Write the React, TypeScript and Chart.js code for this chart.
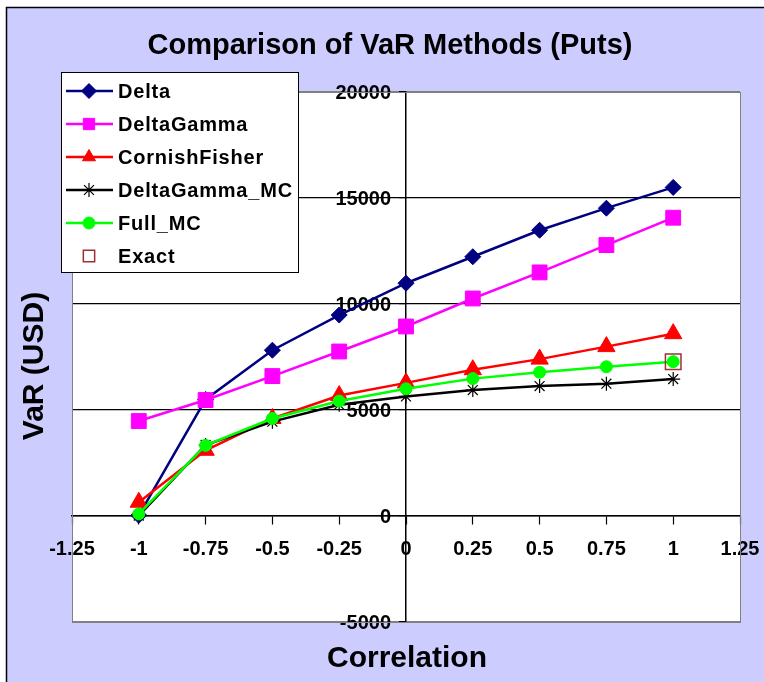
import React, { useEffect, useRef } from 'react';
import { Chart, registerables } from 'chart.js';
import { drawPoint } from 'chart.js/helpers';

Chart.register(...registerables);

const chartTitle = 'Comparison of VaR Methods (Puts)';
const xAxisTitle = 'Correlation';
const yAxisTitle = 'VaR (USD)';

const correlations = [-1, -0.75, -0.5, -0.25, 0, 0.25, 0.5, 0.75, 1];
const deltaVaR = [30, 5500, 7820, 9480, 10980, 12230, 13480, 14520, 15500];
const deltaGammaVaR = [4480, 5470, 6600, 7760, 8940, 10260, 11490, 12780, 14070];
const cornishFisherVaR = [650, 3100, 4600, 5680, 6280, 6900, 7400, 7990, 8600];
const deltaGammaMcVaR = [20, 3350, 4450, 5250, 5640, 5940, 6130, 6240, 6460];
const fullMcVaR = [100, 3330, 4600, 5420, 6000, 6480, 6780, 7040, 7280];
const exactCorrelations = [1];
const exactVaR = [7280];

const xTickValues = [-1.25, -1, -0.75, -0.5, -0.25, 0, 0.25, 0.5, 0.75, 1, 1.25];
const yTickValues = [-5000, 0, 5000, 10000, 15000, 20000];

const FONT = "'Liberation Sans', Arial, Helvetica, sans-serif";

type SeriesStyle = {
  label: string;
  color: string;
  fill: string;
  pointStyle: any;
  radius: number;
  pointBorderWidth: number;
  showLine: boolean;
};

const seriesStyles: SeriesStyle[] = [
  { label: 'Delta', color: '#000080', fill: '#000080', pointStyle: 'rectRot', radius: 8, pointBorderWidth: 1, showLine: true },
  { label: 'DeltaGamma', color: '#FF00FF', fill: '#FF00FF', pointStyle: 'rect', radius: 10.5, pointBorderWidth: 1, showLine: true },
  { label: 'CornishFisher', color: '#FF0000', fill: '#FF0000', pointStyle: 'triangle', radius: 10, pointBorderWidth: 1, showLine: true },
  { label: 'DeltaGamma_MC', color: '#000000', fill: '#000000', pointStyle: 'star', radius: 7, pointBorderWidth: 1.2, showLine: true },
  { label: 'Full_MC', color: '#00FF00', fill: '#00FF00', pointStyle: 'circle', radius: 6, pointBorderWidth: 1, showLine: true },
  { label: 'Exact', color: '#993333', fill: 'rgba(0,0,0,0)', pointStyle: 'rect', radius: 11, pointBorderWidth: 1.5, showLine: false },
];

const seriesData: { xs: number[]; ys: number[] }[] = [
  { xs: correlations, ys: deltaVaR },
  { xs: correlations, ys: deltaGammaVaR },
  { xs: correlations, ys: cornishFisherVaR },
  { xs: correlations, ys: deltaGammaMcVaR },
  { xs: correlations, ys: fullMcVaR },
  { xs: exactCorrelations, ys: exactVaR },
];

const decorPlugin = {
  id: 'decor',
  beforeDraw(chart: any) {
    const { ctx, width, height, chartArea } = chart;
    ctx.save();
    ctx.fillStyle = '#FFFFFF';
    ctx.fillRect(0, 0, width, height);
    ctx.fillStyle = '#CCCCFF';
    ctx.fillRect(7, 8, width - 7, height - 8);
    ctx.strokeStyle = '#000000';
    ctx.lineWidth = 1.5;
    ctx.beginPath();
    ctx.moveTo(6.5, height);
    ctx.lineTo(6.5, 7.5);
    ctx.lineTo(width, 7.5);
    ctx.stroke();
    ctx.fillStyle = '#FFFFFF';
    ctx.fillRect(chartArea.left, chartArea.top, chartArea.right - chartArea.left, chartArea.bottom - chartArea.top);
    ctx.restore();
  },
  beforeDatasetsDraw(chart: any) {
    // y tick labels, to the left of the crossing y axis (drawn under the data lines)
    const { ctx } = chart;
    const yScale = chart.scales.y;
    const xScale = chart.scales.x;
    const axisX = xScale.getPixelForValue(0);
    ctx.save();
    ctx.fillStyle = '#000000';
    ctx.textAlign = 'right';
    ctx.textBaseline = 'middle';
    ctx.font = `bold 20px ${FONT}`;
    yScale.ticks.forEach((t: any) => {
      ctx.fillText(String(t.value), axisX - 15, yScale.getPixelForValue(t.value) + 1);
    });
    ctx.restore();
  },
  afterDraw(chart: any) {
    const { ctx, chartArea } = chart;
    ctx.save();
    // plot border
    ctx.strokeStyle = '#808080';
    ctx.lineWidth = 1;
    ctx.strokeRect(chartArea.left + 0.5, chartArea.top + 0.5, chartArea.right - chartArea.left, chartArea.bottom - chartArea.top);

    // title
    ctx.fillStyle = '#000000';
    ctx.textAlign = 'center';
    ctx.textBaseline = 'middle';
    ctx.font = `bold 29px ${FONT}`;
    ctx.fillText(chartTitle, 390, 46);

    // x axis title
    ctx.font = `bold 30px ${FONT}`;
    ctx.fillText(xAxisTitle, 407, 659);

    // y axis title
    ctx.save();
    ctx.translate(35, 366);
    ctx.rotate(-Math.PI / 2);
    ctx.fillText(yAxisTitle, 0, 0);
    ctx.restore();

    // legend
    const lx = 61, ly = 72, lw = 237, lh = 200;
    ctx.fillStyle = '#FFFFFF';
    ctx.fillRect(lx, ly, lw, lh);
    ctx.strokeStyle = '#000000';
    ctx.lineWidth = 1;
    ctx.strokeRect(lx + 0.5, ly + 0.5, lw, lh);
    const rowH = 33;
    seriesStyles.forEach((s, i) => {
      const cy = ly + 19 + i * rowH;
      if (s.showLine) {
        ctx.strokeStyle = s.color;
        ctx.lineWidth = 2.5;
        ctx.beginPath();
        ctx.moveTo(66, cy);
        ctx.lineTo(113, cy);
        ctx.stroke();
      }
      ctx.fillStyle = s.fill;
      ctx.strokeStyle = s.color;
      ctx.lineWidth = s.pointBorderWidth;
      const r = s.pointStyle === 'rect' ? 8 : Math.min(s.radius, 7.5);
      drawPoint(ctx, { pointStyle: s.pointStyle, radius: r, rotation: 0, borderWidth: s.pointBorderWidth }, 89, cy);
      ctx.fillStyle = '#000000';
      ctx.textAlign = 'left';
      ctx.textBaseline = 'middle';
      ctx.font = `bold 20px ${FONT}`;
      (ctx as any).letterSpacing = '0.8px';
      ctx.fillText(s.label, 118, cy + 1);
      (ctx as any).letterSpacing = '0px';
    });
    ctx.restore();
  },
};

export default function App() {
  const canvasRef = useRef<HTMLCanvasElement | null>(null);

  useEffect(() => {
    const canvas = canvasRef.current;
    if (!canvas) return;
    const datasets = seriesStyles.map((s, i) => ({
      label: s.label,
      data: seriesData[i].xs.map((x, j) => ({ x, y: seriesData[i].ys[j] })),
      borderColor: s.color,
      backgroundColor: s.fill,
      pointStyle: s.pointStyle,
      pointRadius: s.radius,
      pointHoverRadius: s.radius,
      pointBorderColor: s.color,
      pointBackgroundColor: s.fill,
      pointBorderWidth: s.pointBorderWidth,
      borderWidth: 2.5,
      showLine: s.showLine,
      tension: 0,
      fill: false,
      order: seriesStyles.length - i,
    }));

    const chart = new Chart(canvas, {
      type: 'scatter',
      data: { datasets },
      options: {
        responsive: false,
        animation: false,
        devicePixelRatio: 1,
        layout: { autoPadding: false, padding: { left: 72, top: 92, right: 24, bottom: 60 } } as any,
        plugins: {
          legend: { display: false },
          title: { display: false },
          tooltip: { enabled: false },
        },
        scales: {
          x: {
            type: 'linear',
            position: { y: 0 } as any,
            min: -1.25,
            max: 1.25,
            afterBuildTicks: (scale: any) => {
              scale.ticks = xTickValues.map((v) => ({ value: v }));
            },
            afterFit: (scale: any) => {
              scale.paddingLeft = 0;
              scale.paddingRight = 0;
            },
            grid: {
              drawOnChartArea: false,
              drawTicks: true,
              tickLength: 8,
              tickColor: '#000000',
              tickWidth: 1.2,
            },
            border: { display: true, color: '#000000', width: 1.5 },
            ticks: {
              autoSkip: false,
              maxRotation: 0,
              padding: 13,
              color: '#000000',
              font: { family: FONT, size: 20, weight: 'bold' },
              callback: (v: any) => String(v),
            },
          },
          y: {
            type: 'linear',
            position: { x: 0 } as any,
            min: -5000,
            max: 20000,
            afterBuildTicks: (scale: any) => {
              scale.ticks = yTickValues.map((v) => ({ value: v }));
            },
            afterFit: (scale: any) => {
              scale.width = 0;
              scale.paddingTop = 0;
              scale.paddingBottom = 0;
            },
            grid: {
              drawOnChartArea: true,
              drawTicks: true,
              tickLength: 6,
              tickColor: '#000000',
              lineWidth: 1.2,
              color: (c: any) =>
                c.tick && (c.tick.value === 20000 || c.tick.value === -5000) ? '#808080' : '#000000',
            },
            border: { display: true, color: '#000000', width: 1.5 },
            ticks: {
              display: false,
              font: { family: FONT, size: 20, weight: 'bold' },
            },
          },
        },
      },
      plugins: [decorPlugin],
    });
    return () => chart.destroy();
  }, []);

  return (
    <div style={{ position: 'fixed', left: 0, top: 0, width: 764, height: 682 }}>
      <canvas ref={canvasRef} width={764} height={682} style={{ width: 764, height: 682, display: 'block' }} />
    </div>
  );
}
